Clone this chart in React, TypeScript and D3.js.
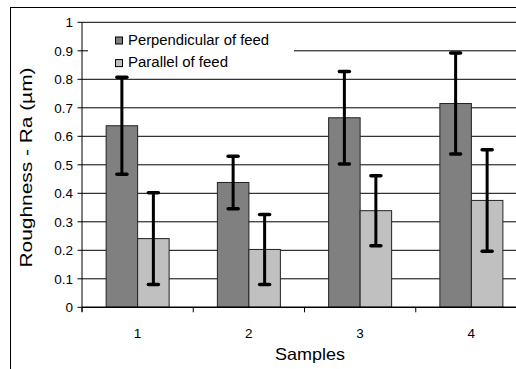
import React from "react";
import * as d3 from "d3";

// Sample categories and the two measurement series (mean Ra and standard deviation)
const samples = ["1", "2", "3", "4"];
const seriesNames = ["Perpendicular of feed", "Parallel of feed"];
const perpendicular = [0.637, 0.438, 0.665, 0.715];
const perpendicularErr = [0.17, 0.092, 0.162, 0.177];
const parallel = [0.241, 0.203, 0.339, 0.375];
const parallelErr = [0.161, 0.123, 0.123, 0.178];
const yTicks = [0, 0.1, 0.2, 0.3, 0.4, 0.5, 0.6, 0.7, 0.8, 0.9, 1];
const yTickLabels = ["0", "0.1", "0.2", "0.3", "0.4", "0.5", "0.6", "0.7", "0.8", "0.9", "1"];

const W = 516;
const H = 369;
const FONT = "'Liberation Sans', Arial, sans-serif";
const COLORS = ["#808080", "#c0c0c0"];

export default function App() {
  const left = 82;
  const right = 527;
  const top = 22.3;
  const bottom = 307.3;

  const x = d3.scaleBand<string>().domain(samples).range([left, right]).paddingInner(0).paddingOuter(0);
  const bw = x.bandwidth();
  const groupW = 63;
  const xs = d3
    .scaleBand<string>()
    .domain(seriesNames)
    .range([bw / 2 - groupW / 2, bw / 2 + groupW / 2])
    .padding(0);
  const y = d3.scaleLinear().domain([0, 1]).range([bottom, top]);

  const series = [
    { name: seriesNames[0], values: perpendicular, errs: perpendicularErr, color: COLORS[0] },
    { name: seriesNames[1], values: parallel, errs: parallelErr, color: COLORS[1] },
  ];

  const boundaries = [...samples.map((s) => x(s) as number), right];

  return (
    <svg
      width={W}
      height={H}
      style={{ position: "absolute", left: 0, top: 0, background: "#fff" }}
      fontFamily={FONT}
    >
      <rect x={0} y={0} width={W} height={H} fill="#fff" />
      {/* chart frame */}
      <rect x={10.5} y={7.5} width={540} height={400} fill="none" stroke="#000" strokeWidth={1} />

      {/* horizontal gridlines */}
      {yTicks.slice(1).map((t) => (
        <line key={t} x1={left} x2={right} y1={y(t)} y2={y(t)} stroke="#000" strokeWidth={1} />
      ))}

      {/* bars */}
      {series.map((s) =>
        samples.map((c, i) => {
          const bx = (x(c) as number) + (xs(s.name) as number);
          return (
            <rect
              key={s.name + c}
              x={bx}
              y={y(s.values[i])}
              width={xs.bandwidth()}
              height={y(0) - y(s.values[i])}
              fill={s.color}
              stroke="#222"
              strokeWidth={1}
            />
          );
        })
      )}

      {/* error bars */}
      {series.map((s) =>
        samples.map((c, i) => {
          const cx = (x(c) as number) + (xs(s.name) as number) + xs.bandwidth() / 2;
          const hi = y(s.values[i] + s.errs[i]);
          const lo = y(s.values[i] - s.errs[i]);
          return (
            <g key={"e" + s.name + c} stroke="#000" strokeLinecap="round">
              <line x1={cx} x2={cx} y1={hi} y2={lo} strokeWidth={3} strokeLinecap="butt" />
              <line x1={cx - 5} x2={cx + 5} y1={hi} y2={hi} strokeWidth={3.5} />
              <line x1={cx - 5} x2={cx + 5} y1={lo} y2={lo} strokeWidth={3.5} />
            </g>
          );
        })
      )}

      {/* y axis */}
      <line x1={left} x2={left} y1={top} y2={bottom + 4.5} stroke="#000" strokeWidth={1} />
      {yTicks.map((t, i) => (
        <g key={"yt" + t}>
          <line x1={left - 4.5} x2={left} y1={y(t)} y2={y(t)} stroke="#000" strokeWidth={1} />
          <text x={left - 9} y={y(t) + 5} textAnchor="end" fontSize={13.5} fill="#000">
            {yTickLabels[i]}
          </text>
        </g>
      ))}

      {/* x axis */}
      <line x1={left} x2={right} y1={bottom} y2={bottom} stroke="#000" strokeWidth={1.5} />
      {boundaries.map((b, i) => (
        <line key={"xt" + i} x1={b} x2={b} y1={bottom} y2={bottom + 5} stroke="#000" strokeWidth={1} />
      ))}
      {samples.map((c) => (
        <text
          key={"xl" + c}
          x={(x(c) as number) + bw / 2}
          y={338}
          textAnchor="middle"
          fontSize={13.5}
          fill="#000"
        >
          {c}
        </text>
      ))}

      {/* axis titles */}
      <text x={310} y={360} textAnchor="middle" fontSize={16.5} textLength={70} lengthAdjust="spacingAndGlyphs">
        Samples
      </text>
      <text
        transform="translate(32,167.5) rotate(-90)"
        textAnchor="middle"
        fontSize={17}
        textLength={200}
        lengthAdjust="spacingAndGlyphs"
      >
        Roughness - Ra (µm)
      </text>

      {/* legend */}
      <rect x={88} y={27} width={206} height={44} fill="#fff" />
      {series.map((s, i) => (
        <g key={"lg" + s.name}>
          <rect x={115.5} y={37 + i * 22.6} width={7} height={7} fill={s.color} stroke="#000" strokeWidth={1} />
          <text
            x={128}
            y={44.7 + i * 22.6}
            fontSize={14}
            textLength={i === 0 ? 141 : 100}
            lengthAdjust="spacingAndGlyphs"
          >
            {s.name}
          </text>
        </g>
      ))}
    </svg>
  );
}
